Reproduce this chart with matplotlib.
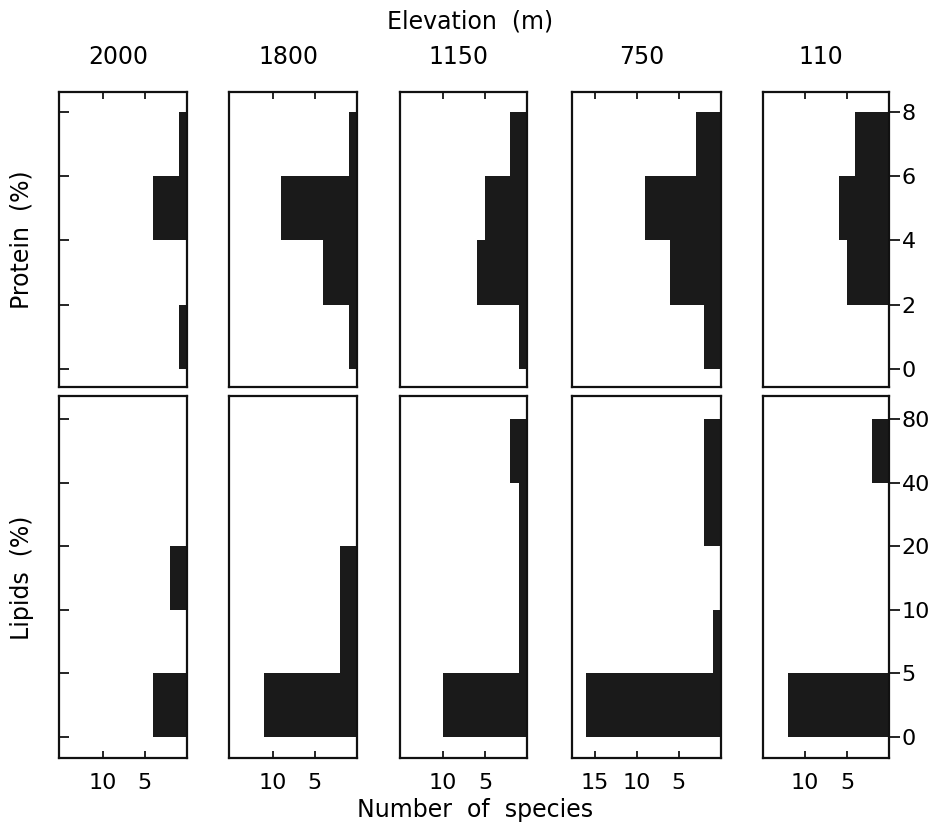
import matplotlib
matplotlib.use('Agg')
import matplotlib.pyplot as plt
import numpy as np

# Elevation of each site (one column per site)
elevations = ['2000', '1800', '1150', '750', '110']

# Protein classes (%): 0-2, 2-4, 4-6, 6-8
protein_edges = [0, 2, 4, 6, 8]
protein_counts = [
    [1, 0, 4, 1],
    [1, 4, 9, 1],
    [1, 6, 5, 2],
    [2, 6, 9, 3],
    [0, 5, 6, 4],
]

# Lipid classes (%): 0-5, 5-10, 10-20, 20-40, 40-80 (drawn on equal steps)
lipid_edges = [0, 5, 10, 20, 40, 80]
lipid_counts = [
    [4, 0, 2, 0, 0],
    [11, 2, 2, 0, 0],
    [10, 1, 1, 1, 2],
    [16, 1, 0, 2, 2],
    [12, 0, 0, 0, 2],
]

x_ticks = [[10, 5], [10, 5], [10, 5], [15, 10, 5], [10, 5]]
x_max = [15.2, 15.2, 15.1, 17.7, 15.0]

W, H = 948, 836
col_px = [(59, 187), (229, 357), (400, 527), (572, 721), (763, 889)]
row_px = [(92, 387), (396, 758)]

BAR = '#1a1a1a'
FS = 17      # titles / axis labels
TS = 16      # tick labels

plt.rcParams['font.family'] = 'DejaVu Sans'
fig = plt.figure(figsize=(W / 100, H / 100), dpi=100)


def make_axes(c, r):
    x0, x1 = col_px[c]
    y0, y1 = row_px[r]
    ax = fig.add_axes([x0 / W, 1 - y1 / H, (x1 - x0) / W, (y1 - y0) / H])
    for s in ax.spines.values():
        s.set_linewidth(1.6)
        s.set_color('#111111')
    ax.set_xlim(x_max[c], 0)
    ax.set_xticks(x_ticks[c])
    return ax


def style_y(ax, c):
    if c == 0:
        ax.tick_params(axis='y', left=True, right=False, labelleft=False,
                       direction='in', length=7, width=1.2)
    elif c == 4:
        ax.tick_params(axis='y', left=False, right=True, labelleft=False,
                       labelright=True, direction='out', length=8, width=1.2,
                       labelsize=TS, pad=1)
    else:
        ax.tick_params(axis='y', left=False, labelleft=False)


for c in range(5):
    # protein row
    ax = make_axes(c, 0)
    ax.barh(protein_edges[:-1], protein_counts[c], height=2, align='edge',
            color=BAR, edgecolor='none')
    ax.set_ylim(-0.56, 8.62)
    ax.set_yticks(protein_edges)
    ax.tick_params(axis='x', bottom=False, top=True, labelbottom=False,
                   direction='in', length=5, width=1.2)
    style_y(ax, c)

    # lipid row
    ax = make_axes(c, 1)
    pos = np.arange(len(lipid_edges) - 1)
    ax.barh(pos, lipid_counts[c], height=1, align='edge',
            color=BAR, edgecolor='none')
    ax.set_ylim(-0.33, 5.36)
    ax.set_yticks(np.arange(len(lipid_edges)))
    ax.set_yticklabels([str(v) for v in lipid_edges])
    ax.tick_params(axis='x', bottom=True, top=False, labelbottom=True,
                   direction='in', length=5, width=1.2, labelsize=TS, pad=11)
    style_y(ax, c)

# column headers
for c, name in enumerate(elevations):
    x0, x1 = col_px[c]
    fig.text((x0 + x1) / 2 / W - 0.005, 1 - 57 / H, name, ha='center',
             va='center', fontsize=FS)

fig.text(470 / W, 1 - 22 / H, 'Elevation  (m)', ha='center', va='center',
         fontsize=FS)
fig.text(475 / W, 1 - 810 / H, 'Number  of  species', ha='center',
         va='center', fontsize=FS)
fig.text(22 / W, 1 - 240 / H, 'Protein  (%)', ha='center', va='center',
         rotation=90, fontsize=FS)
fig.text(22 / W, 1 - 578 / H, 'Lipids  (%)', ha='center', va='center',
         rotation=90, fontsize=FS)

fig.savefig('out.png', dpi=100)
